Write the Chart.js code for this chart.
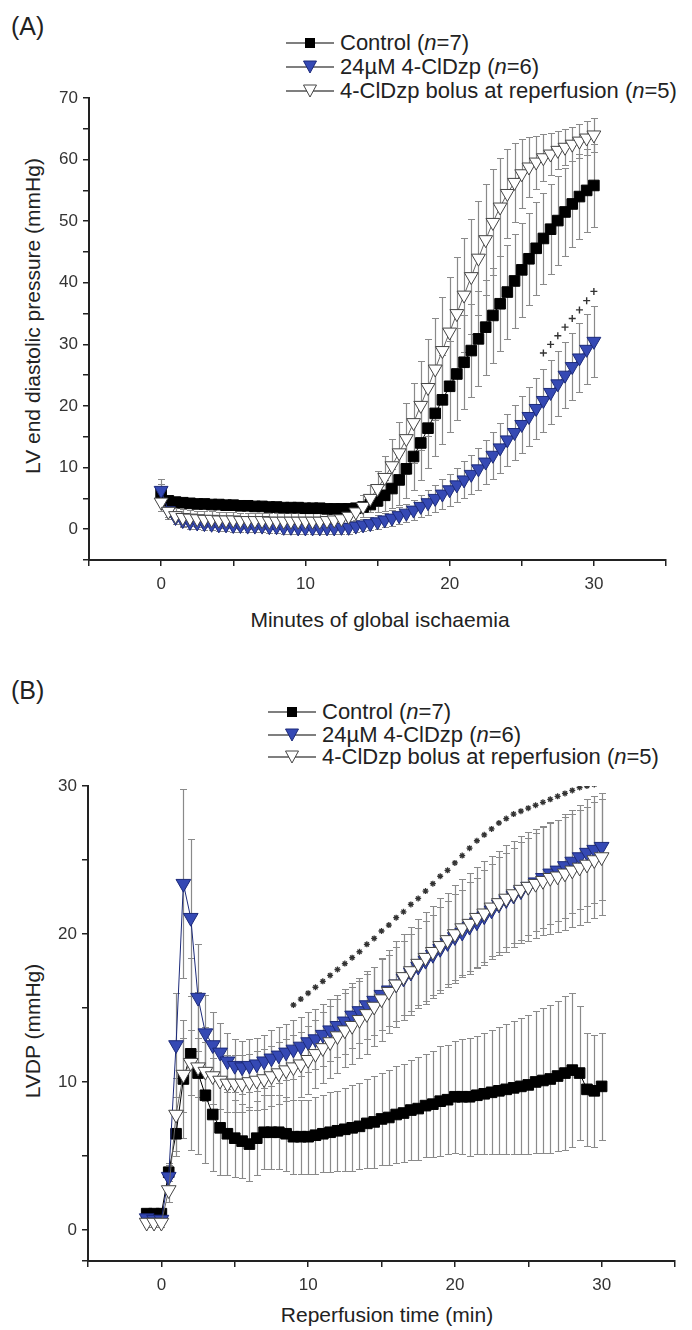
<!DOCTYPE html>
<html>
<head>
<meta charset="utf-8">
<script src="https://cdn.jsdelivr.net/npm/chart.js@4.4.0/dist/chart.umd.min.js"></script>
<style>
  body { margin: 0; background: #fff; width: 692px; height: 1330px; position: relative; overflow: hidden;
         font-family: "Liberation Sans", Arial, sans-serif; color: #222; }
  .txt { position: absolute; white-space: nowrap; }
  .panel { position: absolute; left: 0; }
  .rot { transform: translate(-50%, -50%) rotate(-90deg); }
  .ctr { transform: translate(-50%, -50%); }
  .sym { position: absolute; }
</style>
</head>
<body>
<div class="txt" style="left:11px;top:12px;font-size:25px;">(A)</div>
<div class="txt" style="left:11px;top:676px;font-size:25px;">(B)</div>

<div id="legendA"></div>
<div id="legendB"></div>

<div class="txt rot" style="left:33px;top:316px;font-size:21px;">LV end diastolic pressure (mmHg)</div>
<div class="txt ctr" style="left:380px;top:620px;font-size:21px;">Minutes of global ischaemia</div>
<div class="txt rot" style="left:33px;top:1031px;font-size:21px;">LVDP (mmHg)</div>
<div class="txt ctr" style="left:387px;top:1315px;font-size:21px;">Reperfusion time (min)</div>

<div class="panel" style="top:0;"><canvas id="chartA" width="692" height="600"></canvas></div>
<div class="panel" style="top:650px;"><canvas id="chartB" width="692" height="680"></canvas></div>

<script>
// ---- Panel A: LV end diastolic pressure during global ischaemia ----
const TIME_A = [0, 0.5, 1, 1.5, 2, 2.5, 3, 3.5, 4, 4.5, 5, 5.5, 6, 6.5, 7, 7.5, 8, 8.5, 9, 9.5,
  10, 10.5, 11, 11.5, 12, 12.5, 13, 13.5, 14, 14.5, 15, 15.5, 16, 16.5, 17, 17.5, 18, 18.5, 19, 19.5,
  20, 20.5, 21, 21.5, 22, 22.5, 23, 23.5, 24, 24.5, 25, 25.5, 26, 26.5, 27, 27.5, 28, 28.5, 29, 29.5, 30];

const CONTROL_A = [5.8, 4.6, 4.4, 4.3, 4.2, 4.1, 4.1, 4.0, 4.0, 3.9, 3.9, 3.8, 3.8, 3.7, 3.7, 3.6, 3.6, 3.5, 3.5, 3.5,
  3.4, 3.4, 3.4, 3.3, 3.3, 3.3, 3.3, 3.4, 3.6, 4.0, 4.6, 5.5, 6.6, 8.0, 9.8, 11.8, 14.0, 16.4, 18.8, 21.0,
  23.2, 25.2, 27.1, 29.0, 30.9, 32.8, 34.7, 36.6, 38.5, 40.3, 42.1, 43.9, 45.6, 47.2, 48.7, 50.1, 51.5, 52.8, 54.0, 55.0, 55.8];
const CONTROL_A_SEM = [1.5, 0.6, 0.5, 0.5, 0.5, 0.5, 0.5, 0.5, 0.5, 0.5, 0.5, 0.5, 0.5, 0.5, 0.5, 0.5, 0.5, 0.5, 0.5, 0.5,
  0.5, 0.5, 0.5, 0.5, 0.5, 0.5, 0.5, 0.6, 0.8, 1.2, 1.8, 2.5, 3.2, 4.0, 4.8, 5.5, 6.0, 6.5, 6.9, 7.2,
  7.4, 7.5, 7.6, 7.6, 7.7, 7.7, 7.7, 7.7, 7.7, 7.6, 7.6, 7.5, 7.5, 7.4, 7.3, 7.2, 7.1, 7.0, 6.9, 6.8, 6.7];

const DRUG_A = [6.3, 3.0, 1.9, 1.4, 1.1, 1.0, 0.9, 0.8, 0.7, 0.7, 0.6, 0.6, 0.5, 0.5, 0.5, 0.4, 0.4, 0.3, 0.3, 0.2,
  0.2, 0.2, 0.2, 0.2, 0.2, 0.3, 0.3, 0.5, 0.7, 0.9, 1.2, 1.5, 1.8, 2.2, 2.6, 3.1, 3.7, 4.3, 5.0, 5.7,
  6.4, 7.2, 8.0, 8.9, 9.8, 10.9, 12.0, 13.2, 14.5, 15.7, 17.0, 18.3, 19.6, 20.9, 22.2, 23.6, 25.0, 26.4, 27.8, 29.2, 30.5];
const DRUG_A_SEM = [1.8, 1.0, 1.0, 1.0, 1.0, 1.0, 1.0, 1.0, 1.0, 1.0, 1.0, 1.0, 1.0, 1.0, 1.0, 1.0, 1.0, 1.0, 1.0, 1.0,
  1.0, 1.0, 1.0, 1.0, 1.0, 1.0, 1.0, 1.0, 1.0, 1.1, 1.1, 1.2, 1.3, 1.4, 1.5, 1.6, 1.8, 2.0, 2.2, 2.4,
  2.6, 2.8, 3.0, 3.2, 3.4, 3.6, 3.8, 4.0, 4.2, 4.4, 4.6, 4.8, 5.0, 5.1, 5.2, 5.3, 5.4, 5.5, 5.6, 5.7, 5.8];

const BOLUS_A = [4.4, 2.9, 2.2, 1.9, 1.8, 1.7, 1.6, 1.6, 1.5, 1.5, 1.5, 1.4, 1.4, 1.4, 1.4, 1.3, 1.3, 1.3, 1.3, 1.3,
  1.3, 1.3, 1.3, 1.4, 1.5, 1.7, 2.1, 2.8, 3.7, 5.0, 6.6, 8.4, 10.3, 12.4, 14.7, 17.3, 20.1, 23.0, 26.0, 29.0,
  32.0, 35.0, 38.0, 41.0, 44.0, 47.0, 49.8, 52.3, 54.5, 56.3, 57.7, 58.8, 59.6, 60.3, 60.9, 61.5, 62.0, 62.5, 63.0, 63.5, 64.0];
const BOLUS_A_SEM = [1.5, 1.3, 1.3, 1.3, 1.3, 1.3, 1.3, 1.3, 1.3, 1.3, 1.3, 1.3, 1.3, 1.3, 1.3, 1.3, 1.3, 1.3, 1.3, 1.3,
  1.3, 1.3, 1.3, 1.3, 1.3, 1.3, 1.3, 1.5, 1.8, 2.2, 2.8, 3.5, 4.3, 5.0, 5.8, 6.5, 7.2, 7.8, 8.3, 8.7,
  9.0, 9.2, 9.3, 9.3, 9.2, 9.0, 8.6, 8.0, 7.2, 6.4, 5.6, 4.9, 4.3, 3.8, 3.4, 3.1, 2.9, 2.8, 2.7, 2.7, 2.7];

// significance marks (+) above the 24 uM curve
const SIG_A_TIME = [26.5, 27, 27.5, 28, 28.5, 29, 29.5, 30];
const SIG_A = [28.6, 30.0, 31.4, 32.8, 34.2, 35.6, 37.1, 38.6];

// ---- Panel B: LVDP during reperfusion ----
const TIME_B = [-1, -0.5, 0, 0.5, 1, 1.5, 2, 2.5, 3, 3.5, 4, 4.5, 5, 5.5, 6, 6.5, 7, 7.5, 8, 8.5, 9, 9.5,
  10, 10.5, 11, 11.5, 12, 12.5, 13, 13.5, 14, 14.5, 15, 15.5, 16, 16.5, 17, 17.5, 18, 18.5, 19, 19.5,
  20, 20.5, 21, 21.5, 22, 22.5, 23, 23.5, 24, 24.5, 25, 25.5, 26, 26.5, 27, 27.5, 28, 28.5, 29, 29.5, 30];

const CONTROL_B = [1.1, 1.1, 1.1, 3.9, 6.5, 10.2, 11.9, 10.6, 9.1, 7.8, 6.9, 6.5, 6.2, 6.0, 5.8, 6.2, 6.6, 6.6, 6.6, 6.5, 6.3, 6.3,
  6.3, 6.4, 6.5, 6.6, 6.7, 6.8, 6.9, 7.0, 7.2, 7.3, 7.5, 7.6, 7.8, 7.9, 8.1, 8.2, 8.4, 8.5, 8.7, 8.8,
  9.0, 9.0, 9.0, 9.1, 9.2, 9.3, 9.4, 9.5, 9.6, 9.7, 9.8, 10.0, 10.1, 10.2, 10.4, 10.6, 10.8, 10.6, 9.5, 9.4, 9.7];
const CONTROL_B_SEM = [0.3, 0.3, 0.3, 0.6, 1.5, 4.0, 6.5, 5.5, 4.6, 3.8, 3.2, 2.8, 2.6, 2.5, 2.5, 2.5, 2.5, 2.5, 2.5, 2.5, 2.5, 2.5,
  2.5, 2.6, 2.6, 2.7, 2.7, 2.8, 2.9, 2.9, 3.0, 3.1, 3.1, 3.2, 3.3, 3.3, 3.4, 3.5, 3.5, 3.6, 3.7, 3.7,
  3.8, 3.9, 4.0, 4.0, 4.1, 4.2, 4.3, 4.4, 4.5, 4.6, 4.7, 4.8, 4.9, 5.0, 5.1, 5.2, 5.2, 4.5, 3.8, 3.8, 3.6];

const DRUG_B = [0.8, 0.7, 0.7, 3.6, 12.5, 23.4, 21.1, 15.7, 13.3, 12.5, 12.0, 11.4, 11.1, 11.0, 11.1, 11.2, 11.4, 11.6, 11.8, 12.0, 12.2, 12.4,
  12.7, 12.9, 13.2, 13.5, 13.8, 14.1, 14.5, 14.8, 15.2, 15.5, 15.9, 16.2, 16.6, 17.0, 17.4, 17.8, 18.2, 18.6, 19.0, 19.4,
  19.8, 20.1, 20.5, 20.8, 21.2, 21.6, 22.0, 22.3, 22.6, 22.9, 23.2, 23.5, 23.8, 24.1, 24.3, 24.6, 24.9, 25.2, 25.5, 25.7, 25.9];
const DRUG_B_SEM = [0.3, 0.3, 0.3, 0.8, 3.5, 6.4, 5.3, 3.6, 2.6, 2.2, 2.0, 1.9, 1.8, 1.8, 1.8, 1.8, 1.8, 1.9, 1.9, 1.9, 2.0, 2.0,
  2.0, 2.0, 2.1, 2.1, 2.1, 2.2, 2.2, 2.2, 2.3, 2.3, 2.4, 2.4, 2.5, 2.5, 2.6, 2.6, 2.7, 2.7, 2.8, 2.8,
  2.9, 2.9, 3.0, 3.0, 3.1, 3.1, 3.2, 3.2, 3.2, 3.3, 3.3, 3.3, 3.4, 3.4, 3.4, 3.5, 3.5, 3.5, 3.6, 3.6, 3.6];

const BOLUS_B = [0.5, 0.5, 0.5, 2.7, 7.8, 10.5, 11.3, 11.0, 10.7, 10.4, 10.1, 9.9, 9.9, 9.9, 10.0, 10.1, 10.2, 10.4, 10.6, 10.8, 11.0, 11.2,
  11.5, 11.9, 12.3, 12.7, 13.1, 13.5, 13.8, 14.2, 14.6, 15.1, 15.6, 16.1, 16.6, 17.1, 17.5, 18.0, 18.4, 18.8, 19.2, 19.6,
  20.0, 20.4, 20.7, 21.1, 21.4, 21.8, 22.1, 22.4, 22.7, 23.0, 23.2, 23.4, 23.6, 23.8, 23.9, 24.1, 24.3, 24.5, 24.7, 25.0, 25.2];
const BOLUS_B_SEM = [0.3, 0.3, 0.3, 0.8, 2.5, 2.5, 2.2, 2.0, 2.0, 1.9, 1.9, 1.9, 1.9, 1.9, 1.9, 2.0, 2.0, 2.0, 2.1, 2.1, 2.2, 2.2,
  2.3, 2.3, 2.4, 2.4, 2.5, 2.5, 2.6, 2.6, 2.7, 2.7, 2.8, 2.8, 2.9, 2.9, 3.0, 3.0, 3.1, 3.1, 3.2, 3.2,
  3.3, 3.3, 3.4, 3.4, 3.5, 3.5, 3.5, 3.6, 3.6, 3.6, 3.7, 3.7, 3.7, 3.8, 3.8, 3.8, 3.8, 3.9, 3.9, 3.9, 3.9];

// significance marks (*) above both drug curves
const SIG_B_TIME = [9, 9.5, 10, 10.5, 11, 11.5, 12, 12.5, 13, 13.5, 14, 14.5, 15, 15.5, 16, 16.5, 17, 17.5, 18, 18.5,
  19, 19.5, 20, 20.5, 21, 21.5, 22, 22.5, 23, 23.5, 24, 24.5, 25, 25.5, 26, 26.5, 27, 27.5, 28, 28.5, 29, 29.5, 30];
const SIG_B = [15.2, 15.6, 16.0, 16.4, 16.8, 17.2, 17.6, 18.0, 18.4, 18.8, 19.3, 19.7, 20.2, 20.6, 21.1, 21.5, 22.0, 22.4, 22.9, 23.4,
  23.9, 24.3, 24.8, 25.3, 25.8, 26.3, 26.7, 27.1, 27.5, 27.8, 28.1, 28.3, 28.5, 28.7, 28.9, 29.1, 29.3, 29.5, 29.7, 29.9, 30.0, 30.1, 30.3];

const SERIES_LABELS = ["Control", "24\u00b5M 4-ClDzp", "4-ClDzp bolus at reperfusion"];
const SERIES_N = [7, 6, 5];

const BLUE = "#3549b4";
const BLUE_EDGE = "#1c2a7a";
const BAR_GREY = "#8a8a8a";
const AXIS = "#222";

function pts(xs, ys) {
  return xs.map((x, i) => ({ x, y: ys[i] }));
}

// vertical SEM bars with caps, drawn behind the markers
const errorBars = {
  id: "errorBars",
  beforeDatasetsDraw(chart) {
    const { ctx } = chart;
    const x = chart.scales.x, y = chart.scales.y;
    ctx.save();
    ctx.strokeStyle = BAR_GREY;
    ctx.lineWidth = 1.2;
    chart.data.datasets.forEach((ds) => {
      if (!ds.errors) return;
      ds.data.forEach((p, i) => {
        const e = ds.errors[i];
        const px = Math.round(x.getPixelForValue(p.x)) + 0.5;
        const top = Math.round(y.getPixelForValue(p.y + e)) + 0.5;
        const bot = Math.round(y.getPixelForValue(p.y - e)) + 0.5;
        ctx.beginPath();
        ctx.moveTo(px, top); ctx.lineTo(px, bot);
        ctx.moveTo(px - 3.5, top); ctx.lineTo(px + 3.5, top);
        ctx.moveTo(px - 3.5, bot); ctx.lineTo(px + 3.5, bot);
        ctx.stroke();
      });
    });
    ctx.restore();
  },
};

function seriesSets(time, ctrl, ctrlSem, drug, drugSem, bolus, bolusSem, r) {
  return [
    {
      label: SERIES_LABELS[2], data: pts(time, bolus), errors: bolusSem, order: 1,
      borderColor: "#666", borderWidth: 1, pointStyle: "triangle", rotation: 180,
      pointRadius: r.tri, pointBackgroundColor: "#fff", pointBorderColor: "#444", pointBorderWidth: 1,
    },
    {
      label: SERIES_LABELS[1], data: pts(time, drug), errors: drugSem, order: 2,
      borderColor: BLUE_EDGE, borderWidth: 1, pointStyle: "triangle", rotation: 180,
      pointRadius: r.tri, pointBackgroundColor: BLUE, pointBorderColor: BLUE_EDGE, pointBorderWidth: 1,
    },
    {
      label: SERIES_LABELS[0], data: pts(time, ctrl), errors: ctrlSem, order: 3,
      borderColor: "#000", borderWidth: 1, pointStyle: "rect",
      pointRadius: r.sq, pointBackgroundColor: "#000", pointBorderColor: "#000", pointBorderWidth: 1,
    },
  ];
}

function axisOpts(min, max, fitSize, horizontal) {
  return {
    type: "linear", min, max,
    ticks: {
      stepSize: 5, color: "#333", padding: horizontal ? 8 : 5,
      font: { family: '"Liberation Sans", Arial, sans-serif', size: 17 },
      callback: (v) => (v % 10 === 0 ? String(v) : ""),
    },
    grid: { display: true, drawOnChartArea: false, drawTicks: true, tickLength: 6, color: AXIS, lineWidth: 1.5 },
    border: { display: true, color: AXIS, width: 2 },
    afterFit: (s) => { if (horizontal) s.height = fitSize; else s.width = fitSize; },
  };
}

function baseOptions(padding, xRange, yRange, yWidth) {
  return {
    responsive: false, animation: false, devicePixelRatio: 1,
    layout: { padding },
    plugins: { legend: { display: false }, tooltip: { enabled: false } },
    scales: {
      x: axisOpts(xRange[0], xRange[1], 40, true),
      y: axisOpts(yRange[0], yRange[1], yWidth, false),
    },
  };
}

Chart.defaults.font.family = '"Liberation Sans", Arial, sans-serif';

// Panel A
const setsA = seriesSets(TIME_A, CONTROL_A, CONTROL_A_SEM, DRUG_A, DRUG_A_SEM, BOLUS_A, BOLUS_A_SEM, { tri: 8, sq: 7.5 });
setsA.push({
  label: "sig", data: pts(SIG_A_TIME, SIG_A), showLine: false, order: 0,
  pointStyle: "cross", pointRadius: 3.5, pointBorderColor: "#333", pointBorderWidth: 1.4,
});
new Chart(document.getElementById("chartA"), {
  type: "line",
  data: { datasets: setsA },
  options: baseOptions({ top: 98, right: 26, bottom: 0, left: 0 }, [-5, 35], [-5, 70], 89),
  plugins: [errorBars],
});

// Panel B
const setsB = seriesSets(TIME_B, CONTROL_B, CONTROL_B_SEM, DRUG_B, DRUG_B_SEM, BOLUS_B, BOLUS_B_SEM, { tri: 8.5, sq: 7.5 });
setsB.push({
  label: "sig", data: pts(SIG_B_TIME, SIG_B), showLine: false, order: 0,
  pointStyle: "star", pointRadius: 3, pointBorderColor: "#333", pointBorderWidth: 1.3,
});
new Chart(document.getElementById("chartB"), {
  type: "line",
  data: { datasets: setsB },
  options: baseOptions({ top: 136, right: 17, bottom: 29, left: 0 }, [-5, 35], [-2.1, 30], 88),
  plugins: [errorBars],
});

// HTML legends with the Origin-style "—symbol—" keys
function symbolSvg(kind) {
  let mark;
  if (kind === 0) mark = '<rect x="19" y="5" width="10" height="10" fill="#000"/>';
  else if (kind === 1) mark = '<polygon points="17.5,4 30.5,4 24,16" fill="' + BLUE + '" stroke="' + BLUE_EDGE + '" stroke-width="1"/>';
  else mark = '<polygon points="17.5,4 30.5,4 24,16" fill="#fff" stroke="#444" stroke-width="1"/>';
  return '<svg width="48" height="20" viewBox="0 0 48 20"><line x1="0" y1="10" x2="48" y2="10" stroke="#555" stroke-width="1.3"/>' + mark + "</svg>";
}

function buildLegend(id, rows, symLeft, textLeft) {
  const host = document.getElementById(id);
  rows.forEach((cy, i) => {
    const s = document.createElement("div");
    s.className = "sym";
    s.style.left = symLeft + "px";
    s.style.top = (cy - 10) + "px";
    s.innerHTML = symbolSvg(i);
    host.appendChild(s);
    const t = document.createElement("div");
    t.className = "txt";
    t.style.left = textLeft + "px";
    t.style.top = (cy - 12) + "px";
    t.style.fontSize = "22px";
    t.style.lineHeight = "24px";
    t.innerHTML = SERIES_LABELS[i] + " (<i>n</i>=" + SERIES_N[i] + ")";
    host.appendChild(t);
  });
}

buildLegend("legendA", [43, 67, 91], 286, 340);
buildLegend("legendB", [712, 735, 757], 268, 322);
</script>
</body>
</html>
